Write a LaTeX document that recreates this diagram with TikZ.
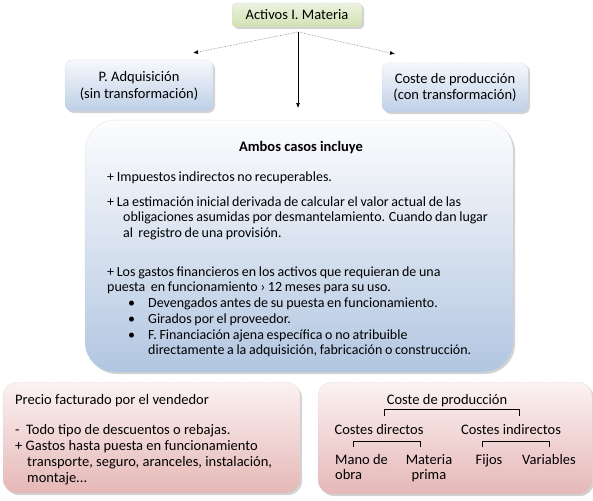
\documentclass[tikz,border=0pt]{standalone}
\usepackage{fontspec}
\setmainfont{Carlito}
\newfontfamily\bodyfont{Carlito}[WordSpace=0.85]
\usetikzlibrary{shadows,arrows.meta}
\definecolor{gtop}{RGB}{236,242,222}
\definecolor{gbot}{RGB}{210,225,180}
\definecolor{btop}{RGB}{246,248,252}
\definecolor{bbot}{RGB}{190,207,231}
\definecolor{bigtop}{RGB}{253,253,254}
\definecolor{bigbot}{RGB}{178,198,225}
\definecolor{ptop}{RGB}{252,242,242}
\definecolor{pbot}{RGB}{229,184,183}
\definecolor{edge}{RGB}{200,208,220}
\begin{document}
\begin{tikzpicture}[x=1pt,y=-1pt,
  every node/.style={font=\fontsize{14.5}{15.5}\selectfont, inner sep=0pt},
  txt/.style={anchor=base west},
  btxt/.style={anchor=base west, font=\bodyfont\fontsize{14}{15.5}\selectfont},
  ctxt/.style={anchor=base},
  shbox/.style={draw=edge, densely dotted, line width=0.5pt,
     drop shadow={opacity=0.35, shadow xshift=2pt, shadow yshift=-2pt}},
  greenbox/.style={shbox, rounded corners=4pt, top color=gtop, bottom color=gbot},
  bluebox/.style={shbox, rounded corners=7pt, top color=btop, bottom color=bbot, align=center},
  bigbox/.style={shbox, rounded corners=30pt, top color=bigtop, bottom color=bigbot},
  pinkbox/.style={shbox, rounded corners=14pt, top color=ptop, bottom color=pbot},
  dotarrow/.style={draw=gray, densely dotted, line width=0.6pt, -{Latex[length=5pt,width=4pt,black]}},
  solarrow/.style={draw=black, line width=0.6pt, -{Latex[length=5pt,width=4pt]}},
  brk/.style={draw=black, line width=0.6pt}
]
\useasboundingbox (0,0) rectangle (593,500);

% top
\node[greenbox, minimum width=130pt, minimum height=24pt] (top) at (297,15) {Activos I. Materia};
\coordinate (src) at (298,32);
\coordinate (tl) at (193,53);
\coordinate (tr) at (395,54);
\coordinate (tc) at (298,108);
\draw[dotarrow] (src) -- (tl);
\draw[dotarrow] (src) -- (tr);
\draw[solarrow] (src) -- (tc);

% side boxes
\node[bluebox, minimum width=148pt, minimum height=51pt, font=\fontsize{14.5}{17}\selectfont] (adq) at (139,85.5) {P. Adquisición\\(sin transformación)};
\node[bluebox, minimum width=146pt, minimum height=49pt, font=\fontsize{14.5}{16}\selectfont] (cp) at (455,87.5) {Coste de producción\\(con transformación)};

% big box
\node[bigbox, minimum width=428pt, minimum height=252pt] (big) at (299,246) {};
\node[ctxt, font=\fontsize{14.5}{15.5}\selectfont\bfseries] (amb) at (301,151) {Ambos casos incluye};
\node[btxt] (a1) at (107,181) {+ Impuestos indirectos no recuperables.};
\node[btxt] (a2) at (107,206) {+ La estimación inicial derivada de calcular el valor actual de las};
\node[btxt] (a3) at (123,221) {obligaciones asumidas por desmantelamiento. Cuando dan lugar};
\node[btxt] (a4) at (123,237) {al\ \ registro de una provisión.};
\node[btxt] (a5) at (107,276) {+ Los gastos financieros en los activos que requieran de una};
\node[btxt] (a6) at (107,291) {puesta\ \ en funcionamiento › 12 meses para su uso.};
\node[btxt] (b1) at (128,307) {•};
\node[btxt] (a7) at (148,307) {Devengados antes de su puesta en funcionamiento.};
\node[btxt] (b2) at (128,323) {•};
\node[btxt] (a8) at (148,323) {Girados por el proveedor.};
\node[btxt] (b3) at (128,339) {•};
\node[btxt] (a9) at (148,339) {F. Financiación ajena específica o no atribuible};
\node[btxt] (a10) at (148,354) {directamente a la adquisición, fabricación o construcción.};

% bottom left
\node[pinkbox, minimum width=297pt, minimum height=111pt] (pl) at (151.5,437.5) {};
\node[txt] (p1) at (15,404) {Precio facturado por el vendedor};
\node[txt] (p2) at (15,434) {-\ \ Todo tipo de descuentos o rebajas.};
\node[txt] (p3) at (15,450) {+ Gastos hasta puesta en funcionamiento};
\node[txt] (p4) at (27,466) {transporte, seguro, aranceles, instalación,};
\node[txt] (p5) at (27,482) {montaje...};

% bottom right
\node[pinkbox, minimum width=274pt, minimum height=112pt] (pr) at (455,438) {};
\node[ctxt] (cpr) at (447,404) {Coste de producción};
\node[ctxt] (cd) at (379,434) {Costes directos};
\node[ctxt] (ci) at (511,434) {Costes indirectos};
\node[txt] (mo) at (335,464) {Mano de};
\node[txt] (mo2) at (335,479) {obra};
\node[ctxt] (mp) at (429,464) {Materia};
\node[ctxt] (mp2) at (429,479) {prima};
\node[ctxt] (fi) at (489,464) {Fijos};
\node[ctxt] (va) at (549,464) {Variables};

\coordinate (k1l) at (384,416);
\coordinate (k1r) at (519,416);
\coordinate (k2l) at (353,447);
\coordinate (k2r) at (420,447);
\coordinate (k3l) at (482,447);
\coordinate (k3r) at (549,447);
\draw[brk] (k1l) -- ++(0,-7) -| (k1r);
\draw[brk] (k2l) -- ++(0,-6) -| (k2r);
\draw[brk] (k3l) -- ++(0,-6) -| (k3r);
\end{tikzpicture}
\end{document}
